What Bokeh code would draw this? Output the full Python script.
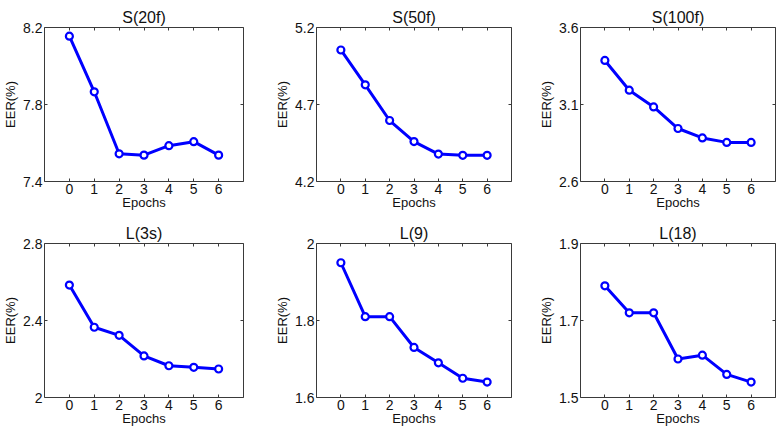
from bokeh.plotting import figure
from bokeh.layouts import gridplot
from bokeh.models import Range1d, FixedTicker, LinearAxis
from bokeh.embed import file_html
from bokeh.resources import INLINE

titles = ["S(20f)", "S(50f)", "S(100f)", "L(3s)", "L(9)", "L(18)"]
epochs = [0, 1, 2, 3, 4, 5, 6]
eer_s20 = [8.155, 7.866, 7.544, 7.537, 7.586, 7.607, 7.537]
eer_s50 = [5.054, 4.828, 4.596, 4.459, 4.378, 4.370, 4.370]
eer_s100 = [3.386, 3.193, 3.084, 2.944, 2.883, 2.854, 2.854]
eer_l3 = [2.584, 2.365, 2.323, 2.216, 2.165, 2.157, 2.148]
eer_l9 = [1.95, 1.81, 1.81, 1.73, 1.69, 1.65, 1.64]
eer_l18 = [1.79, 1.72, 1.72, 1.60, 1.61, 1.56, 1.54]
series = [eer_s20, eer_s50, eer_s100, eer_l3, eer_l9, eer_l18]
y_ticks = [[7.4, 7.8, 8.2], [4.2, 4.7, 5.2], [2.6, 3.1, 3.6],
           [2.0, 2.4, 2.8], [1.6, 1.8, 2.0], [1.5, 1.7, 1.9]]
y_tick_labels = [["7.4", "7.8", "8.2"], ["4.2", "4.7", "5.2"], ["2.6", "3.1", "3.6"],
                 ["2", "2.4", "2.8"], ["1.6", "1.8", "2"], ["1.5", "1.7", "1.9"]]
x_label = "Epochs"
y_label = "EER(%)"

FONT = "Liberation Sans"
TXT = "#111111"
LINE = "#3a3a3a"
BLUE = "#0000ff"

FRAME_W, FRAME_H = 200, 154
col_borders = [(43, 29), (39, 25), (39, 4)]   # left, right
row_borders = [(27, 34), (28, 33)]            # top, bottom


def style_axis(ax, show_labels):
    ax.axis_line_color = None
    ax.major_tick_line_color = LINE
    ax.major_tick_in = 3
    ax.major_tick_out = 0
    ax.minor_tick_line_color = None
    ax.major_label_text_font = FONT
    if show_labels:
        ax.major_label_text_color = TXT
        ax.major_label_text_font_size = "14px"
    else:
        ax.major_label_text_color = None
        ax.major_label_text_font_size = "1px"
        ax.major_label_standoff = 0
    ax.axis_label_text_font = FONT
    ax.axis_label_text_font_style = "normal"
    ax.axis_label_text_color = TXT
    ax.axis_label_text_font_size = "13px"


figs = []
for i in range(6):
    r, c = divmod(i, 3)
    bl, br = col_borders[c]
    bt, bb = row_borders[r]
    yt = y_ticks[i]
    p = figure(width=bl + FRAME_W + br, height=bt + FRAME_H + bb,
               output_backend="svg", toolbar_location=None,
               x_range=Range1d(-1, 7), y_range=Range1d(yt[0], yt[-1]),
               min_border_left=bl, min_border_right=br,
               min_border_top=bt, min_border_bottom=bb,
               x_axis_label=x_label, y_axis_label=y_label,
               title=titles[i])
    p.grid.visible = False
    p.outline_line_color = LINE
    p.outline_line_width = 1
    p.background_fill_color = "white"
    p.border_fill_color = "white"

    p.title.align = "center"
    p.title.text_font = FONT
    p.title.text_font_size = "16px"
    p.title.text_font_style = "normal"
    p.title.text_color = TXT
    p.title.standoff = 4
    p.title.offset = 0

    p.xaxis.ticker = FixedTicker(ticks=epochs)
    p.yaxis.ticker = FixedTicker(ticks=yt)
    p.yaxis.major_label_overrides = {v: s for v, s in zip(yt, y_tick_labels[i])}
    for ax in p.xaxis + p.yaxis:
        style_axis(ax, True)
    p.xaxis.major_label_standoff = 2
    p.xaxis.axis_label_standoff = -2
    p.yaxis.major_label_standoff = 2
    p.yaxis.axis_label_standoff = 2

    top = LinearAxis(ticker=FixedTicker(ticks=epochs))
    right = LinearAxis(ticker=FixedTicker(ticks=yt))
    style_axis(top, False)
    style_axis(right, False)
    p.add_layout(top, "above")
    p.add_layout(right, "right")

    p.line(epochs, series[i], line_color=BLUE, line_width=3)
    p.scatter(epochs, series[i], marker="circle", size=7,
              line_color=BLUE, line_width=2.2, fill_color="white")
    figs.append(p)

grid = gridplot([figs[0:3], figs[3:6]], toolbar_location=None)

open("out.html", "w").write(file_html(grid, INLINE))
